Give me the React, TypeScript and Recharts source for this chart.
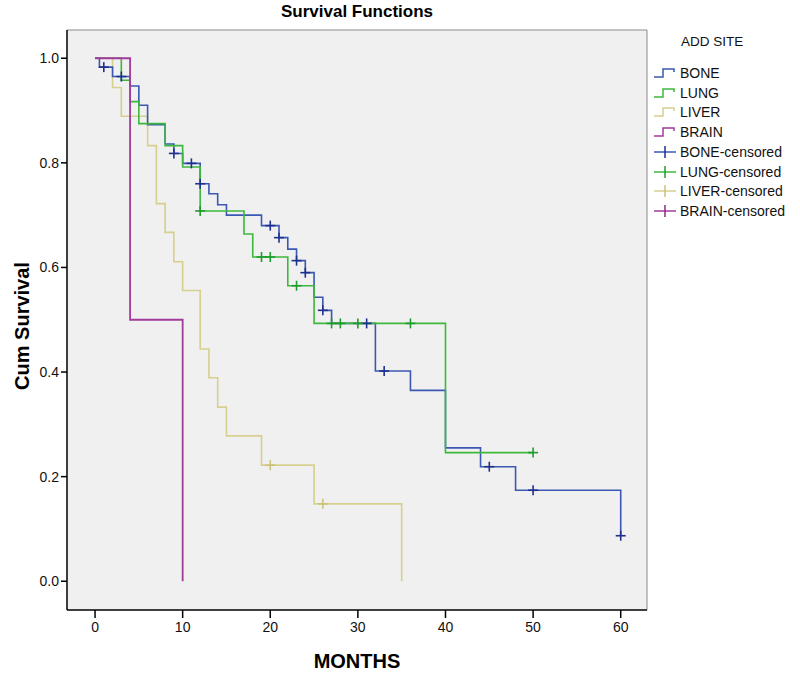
import { ComposedChart, Line, Scatter, XAxis, YAxis, CartesianGrid, ReferenceLine } from "recharts";

// BONE
const boneTimes = [0, 0.5, 2, 4, 5, 6, 8, 9, 10, 12, 13, 14, 15, 19, 21, 22, 23, 24, 25, 26, 27, 32, 36, 40, 44, 48, 60];
const boneSurv = [1, 0.983, 0.965, 0.947, 0.91, 0.873, 0.836, 0.818, 0.799, 0.76, 0.741, 0.72, 0.7, 0.68, 0.657, 0.635, 0.613, 0.59, 0.543, 0.518, 0.493, 0.402, 0.365, 0.255, 0.219, 0.174, 0.087];
const boneCensTimes = [1, 3, 9, 11, 12, 20, 21, 23, 24, 26, 31, 33, 45, 50, 60];
const boneCensSurv = [0.983, 0.965, 0.818, 0.799, 0.76, 0.68, 0.657, 0.613, 0.59, 0.518, 0.493, 0.402, 0.219, 0.174, 0.087];

// LUNG
const lungTimes = [0, 3, 4, 5, 8, 10, 12, 17, 18, 22, 25, 40, 50];
const lungSurv = [1, 0.958, 0.917, 0.875, 0.833, 0.792, 0.708, 0.664, 0.62, 0.565, 0.493, 0.246, 0.246];
const lungCensTimes = [12, 19, 20, 23, 27, 28, 30, 36, 50];
const lungCensSurv = [0.708, 0.62, 0.62, 0.565, 0.493, 0.493, 0.493, 0.493, 0.246];

// LIVER
const liverTimes = [0, 2, 3, 6, 7, 8, 9, 10, 12, 13, 14, 15, 19, 25, 35];
const liverSurv = [1, 0.944, 0.889, 0.833, 0.722, 0.667, 0.611, 0.556, 0.444, 0.389, 0.333, 0.278, 0.222, 0.148, 0];
const liverCensTimes = [20, 26];
const liverCensSurv = [0.222, 0.148];

// BRAIN
const brainTimes = [0, 4, 10];
const brainSurv = [1, 0.5, 0];

const xTicks = [0, 10, 20, 30, 40, 50, 60];
const yTicks = [0, 0.2, 0.4, 0.6, 0.8, 1.0];

const legendItems = ["BONE", "LUNG", "LIVER", "BRAIN"];

const colors: Record<string, string> = {
  BONE: "#3a58b2",
  LUNG: "#3cb83c",
  LIVER: "#d6cf8e",
  BRAIN: "#a33a9c",
};
const censColors: Record<string, string> = {
  BONE: "#1f318f",
  LUNG: "#1e9c2c",
  LIVER: "#cbc378",
  BRAIN: "#8a2a86",
};

const pts = (t: number[], s: number[]) => t.map((x, i) => ({ t: x, s: s[i] }));

const font = "'Liberation Sans', Arial, sans-serif";

function cross(color: string) {
  return (p: any) => {
    const { cx, cy } = p;
    return (
      <g>
        <line x1={cx - 5} y1={cy} x2={cx + 5} y2={cy} stroke={color} strokeWidth={1.6} />
        <line x1={cx} y1={cy - 5} x2={cx} y2={cy + 5} stroke={color} strokeWidth={1.6} />
      </g>
    );
  };
}

function Legend() {
  return (
    <div style={{ position: "absolute", left: 652, top: 34, fontFamily: font, color: "#111" }}>
      <div style={{ position: "absolute", left: 29, top: 0, fontSize: 13.5, whiteSpace: "nowrap" }}>ADD SITE</div>
      {legendItems.map((name, i) => (
        <div key={name} style={{ position: "absolute", left: 0, top: 30 + i * 19.7, height: 18, display: "flex", alignItems: "center", whiteSpace: "nowrap" }}>
          <svg width={28} height={14}>
            <polyline points="2,11 11,11 11,3 22,3 22,6" fill="none" stroke={colors[name]} strokeWidth={1.5} />
          </svg>
          <span style={{ fontSize: 14 }}>{name}</span>
        </div>
      ))}
      {legendItems.map((name, i) => (
        <div key={name + "c"} style={{ position: "absolute", left: 0, top: 30 + (i + 4) * 19.7, height: 18, display: "flex", alignItems: "center", whiteSpace: "nowrap" }}>
          <svg width={28} height={14}>
            <line x1={2} y1={7} x2={24} y2={7} stroke={colors[name]} strokeWidth={1.5} />
            <line x1={13} y1={1} x2={13} y2={13} stroke={censColors[name]} strokeWidth={1.5} />
          </svg>
          <span style={{ fontSize: 14 }}>{name}-censored</span>
        </div>
      ))}
    </div>
  );
}

export default function App() {
  const yMin = -0.055;
  const yMax = 1.054;
  const xMin = -3.2;
  const xMax = 63;
  return (
    <div style={{ position: "absolute", left: 0, top: 0, width: 800, height: 673, background: "#fff", fontFamily: font }}>
      <div style={{ position: "absolute", left: 0, width: 714, top: 2, textAlign: "center", fontSize: 17, fontWeight: "bold" }}>
        Survival Functions
      </div>
      <div style={{ position: "absolute", left: 22, top: 326, transform: "translate(-50%, -50%) rotate(-90deg)", fontSize: 20, fontWeight: "bold", whiteSpace: "nowrap" }}>
        Cum Survival
      </div>
      <div style={{ position: "absolute", left: 67, width: 580, top: 650, textAlign: "center", fontSize: 20, fontWeight: "bold" }}>
        MONTHS
      </div>
      <ComposedChart width={800} height={673} margin={{ top: 30, right: 153, bottom: 33, left: 27 }}>
        <CartesianGrid horizontal={false} vertical={false} fill="#f0f0f0" stroke="none" />
        <XAxis
          type="number"
          dataKey="t"
          domain={[xMin, xMax]}
          ticks={xTicks}
          height={30}
          tickSize={8}
          tickMargin={4}
          tick={{ fill: "#111", fontSize: 14, fontFamily: font }}
          axisLine={{ stroke: "#000", strokeWidth: 1.5 }}
          tickLine={{ stroke: "#000", strokeWidth: 1.5 }}
          allowDataOverflow
        />
        <YAxis
          type="number"
          dataKey="s"
          domain={[yMin, yMax]}
          ticks={yTicks}
          width={40}
          tickSize={6}
          tickFormatter={(v: number) => v.toFixed(1)}
          tick={{ fill: "#111", fontSize: 14, fontFamily: font }}
          axisLine={{ stroke: "#000", strokeWidth: 1.5 }}
          tickLine={{ stroke: "#000", strokeWidth: 1.5 }}
          allowDataOverflow
        />
        <ReferenceLine y={yMax} stroke="#8a8a8a" strokeWidth={1} />
        <ReferenceLine x={xMax} stroke="#8a8a8a" strokeWidth={1} />
        <Line data={pts(liverTimes, liverSurv)} dataKey="s" type="stepAfter" stroke={colors.LIVER} strokeWidth={1.6} dot={false} isAnimationActive={false} />
        <Line data={pts(boneTimes, boneSurv)} dataKey="s" type="stepAfter" stroke={colors.BONE} strokeWidth={1.6} dot={false} isAnimationActive={false} />
        <Line data={pts(lungTimes, lungSurv)} dataKey="s" type="stepAfter" stroke={colors.LUNG} strokeWidth={1.6} dot={false} isAnimationActive={false} />
        <Line data={pts(brainTimes, brainSurv)} dataKey="s" type="stepAfter" stroke={colors.BRAIN} strokeWidth={1.8} dot={false} isAnimationActive={false} />
        <Scatter data={pts(liverCensTimes, liverCensSurv)} dataKey="s" shape={cross(censColors.LIVER)} isAnimationActive={false} />
        <Scatter data={pts(boneCensTimes, boneCensSurv)} dataKey="s" shape={cross(censColors.BONE)} isAnimationActive={false} />
        <Scatter data={pts(lungCensTimes, lungCensSurv)} dataKey="s" shape={cross(censColors.LUNG)} isAnimationActive={false} />
      </ComposedChart>
      <Legend />
    </div>
  );
}
